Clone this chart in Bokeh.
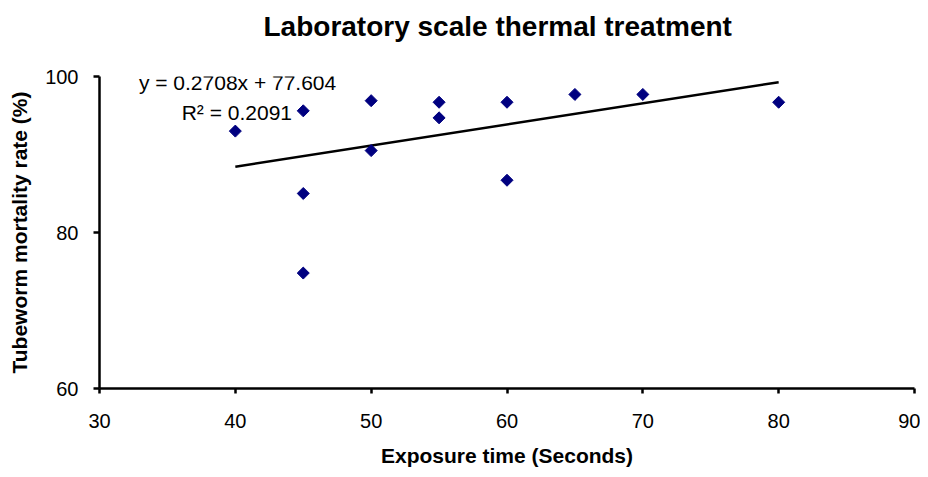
import numpy as np
from bokeh.plotting import figure
from bokeh.models import Range1d, Label, FixedTicker, Title
from bokeh.embed import file_html
from bokeh.resources import INLINE

# ---- data ----
exposure_s = [40, 45, 45, 45, 50, 50, 55, 55, 60, 60, 65, 70, 80]
mortality_pct = [93.0, 95.6, 85.0, 74.8, 96.9, 90.5, 96.7, 94.7, 96.7, 86.7, 97.7, 97.7, 96.7]
trend_slope = 0.2708
trend_intercept = 77.604
trend_r2 = 0.2091
x_ticks = [30, 40, 50, 60, 70, 80, 90]
y_ticks = [60, 80, 100]
chart_title = "Laboratory scale thermal treatment"

FONT = "Liberation Sans"

p = figure(width=920, height=469,
           x_range=Range1d(30, 90), y_range=Range1d(60, 100),
           output_backend="svg", toolbar_location=None,
           min_border_left=99, min_border_right=6,
           min_border_top=76, min_border_bottom=81,
           outline_line_color=None, background_fill_color="white",
           border_fill_color="white")

# spacer between the frame and the title (closest to frame), then the title
p.title.text = ""
spacer = Title(text=" ", text_font=FONT, text_font_size="28px", standoff=2)
p.add_layout(spacer, "above")
title = Title(text=chart_title, align="left", offset=164, standoff=0,
              text_font=FONT, text_font_size="28px", text_font_style="bold",
              text_color="black")
p.add_layout(title, "above")

p.xgrid.visible = False
p.ygrid.visible = False

for ax in (p.xaxis[0], p.yaxis[0]):
    ax.axis_line_width = 2.5
    ax.axis_line_color = "black"
    ax.major_tick_line_width = 2.5
    ax.major_tick_line_color = "black"
    ax.major_tick_in = 0
    ax.minor_tick_line_color = None
    ax.major_label_text_font = FONT
    ax.major_label_text_font_size = "20px"
    ax.major_label_text_color = "black"
    ax.axis_label_text_font = FONT
    ax.axis_label_text_font_size = "21px"
    ax.axis_label_text_font_style = "bold"
    ax.axis_label_text_color = "black"

p.xaxis[0].ticker = FixedTicker(ticks=x_ticks)
p.yaxis[0].ticker = FixedTicker(ticks=y_ticks)
p.xaxis[0].major_tick_out = 5
p.yaxis[0].major_tick_out = 6
p.xaxis[0].major_label_standoff = 20
p.yaxis[0].major_label_standoff = 15
p.xaxis[0].axis_label = "Exposure time (Seconds)"
p.yaxis[0].axis_label = "Tubeworm mortality rate (%)"
p.xaxis[0].axis_label_standoff = 13
p.yaxis[0].axis_label_standoff = 11

# trend line computed from equation over data extent
xs = np.array([min(exposure_s), max(exposure_s)], dtype=float)
p.line(xs, trend_slope * xs + trend_intercept, line_color="black", line_width=2.5)

p.scatter(exposure_s, mortality_pct, marker="square", size=8.5, angle=np.pi / 4,
          fill_color="#000080", line_color="#000080")

eq = Label(x=32.9, y=99.27, text=f"y = {trend_slope}x + {trend_intercept}",
           text_font=FONT, text_font_size="21px", text_baseline="middle",
           text_align="left", text_color="black")
r2 = Label(x=36.05, y=95.42, text=f"R\u00b2 = {trend_r2}",
           text_font=FONT, text_font_size="21px", text_baseline="middle",
           text_align="left", text_color="black")
p.add_layout(eq)
p.add_layout(r2)

open("out.html", "w").write(file_html(p, INLINE))
